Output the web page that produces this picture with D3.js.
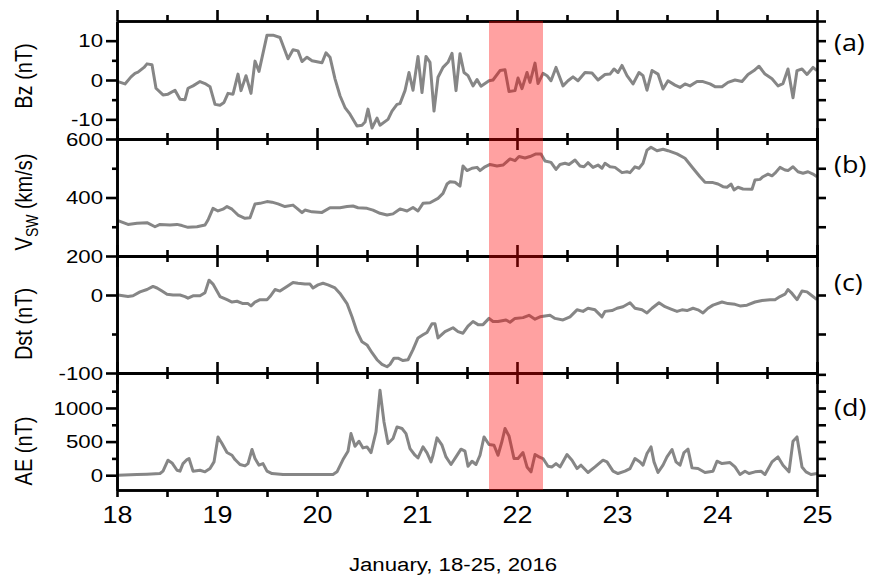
<!DOCTYPE html>
<html>
<head>
<meta charset="UTF-8">
<style>
  body { margin: 0; padding: 0; background: #fff; }
  svg { display: block; }
  text { font-family: "Liberation Sans", Arial, sans-serif; fill: #000; }
  .tag { font-family: "Open Sans", sans-serif; }
</style>
</head>
<body>
<svg id="chart"></svg>
<script src="https://d3js.org/d3.v7.min.js"></script>
<script>
let width = 878, height = 579;

// Bz (nT), [day, value]
const bz = [[18.01,-0.4],[18.08,-1.0],[18.14,0.8],[18.18,1.7],[18.21,2.0],[18.27,3.2],[18.30,4.1],[18.35,3.9],[18.39,-2.1],[18.46,-3.8],[18.51,-3.6],[18.58,-2.6],[18.63,-4.9],[18.68,-5.0],[18.71,-2.1],[18.76,-1.5],[18.83,-0.4],[18.88,-0.9],[18.93,-1.7],[18.98,-6.2],[19.03,-6.4],[19.07,-5.7],[19.11,-3.4],[19.16,-3.6],[19.21,1.5],[19.24,-2.7],[19.29,1.1],[19.34,-3.4],[19.38,4.8],[19.42,2.2],[19.50,11.4],[19.56,11.4],[19.63,10.8],[19.71,5.4],[19.76,7.7],[19.81,7.4],[19.85,4.7],[19.90,5.8],[19.95,4.9],[20.05,4.4],[20.09,6.9],[20.13,5.8],[20.18,0.3],[20.23,-4.0],[20.28,-7.0],[20.33,-8.7],[20.40,-11.7],[20.45,-11.5],[20.48,-10.7],[20.51,-7.4],[20.55,-12.2],[20.60,-9.7],[20.63,-11.5],[20.71,-10.0],[20.75,-7.9],[20.80,-6.2],[20.83,-6.0],[20.88,-2.7],[20.92,1.9],[20.96,-2.6],[21.01,6.0],[21.05,-3.2],[21.09,6.0],[21.13,4.5],[21.17,-7.9],[21.21,0.7],[21.26,3.2],[21.31,4.5],[21.35,6.8],[21.39,-2.7],[21.43,6.7],[21.47,1.9],[21.51,1.1],[21.56,-1.5],[21.60,0.1],[21.64,-1.6],[21.72,-0.2],[21.76,0],[21.83,2.4],[21.88,2.6],[21.92,-2.9],[21.98,-2.7],[22.01,0.5],[22.05,-2.2],[22.10,1.9],[22.13,-0.6],[22.18,4.3],[22.21,-0.9],[22.26,1.7],[22.30,1.1],[22.34,-0.2],[22.39,3.2],[22.46,-1.5],[22.51,-0.2],[22.56,0.8],[22.61,-0.2],[22.68,1.9],[22.75,1.8],[22.81,0],[22.88,1.4],[22.93,1.5],[22.97,2.8],[23.01,1.9],[23.05,3.7],[23.10,1.1],[23.16,-1.0],[23.22,1.9],[23.26,1.1],[23.30,-2.6],[23.35,2.4],[23.41,1.5],[23.46,-2.3],[23.51,-0.2],[23.58,-1.3],[23.63,-1.9],[23.68,-1.0],[23.73,-1.5],[23.80,-0.4],[23.86,-0.4],[23.93,-1.0],[23.98,-1.7],[24.05,-1.7],[24.11,-0.6],[24.18,0],[24.25,-0.4],[24.31,1.4],[24.37,2.4],[24.42,3.5],[24.48,1.5],[24.55,0.3],[24.61,-1.5],[24.66,-0.9],[24.71,2.8],[24.76,-4.5],[24.80,2.4],[24.85,2.8],[24.90,1.4],[24.96,3.2],[25.0,2.4]];

// solar wind speed (km/s)
const vsw = [[18.01,321],[18.11,308],[18.20,312],[18.30,314],[18.38,300],[18.43,308],[18.53,306],[18.60,308],[18.65,304],[18.71,298],[18.80,300],[18.88,306],[18.91,323],[18.96,363],[19.01,354],[19.06,360],[19.10,369],[19.15,360],[19.21,340],[19.28,329],[19.33,331],[19.38,378],[19.43,380],[19.50,386],[19.55,384],[19.61,378],[19.68,369],[19.76,374],[19.80,363],[19.85,348],[19.88,357],[19.95,351],[20.05,349],[20.13,365],[20.23,365],[20.30,369],[20.36,371],[20.41,365],[20.50,363],[20.56,357],[20.63,346],[20.70,340],[20.76,344],[20.83,361],[20.90,354],[20.96,366],[21.01,354],[21.06,380],[21.13,382],[21.21,397],[21.26,414],[21.30,446],[21.33,454],[21.38,452],[21.43,439],[21.46,508],[21.50,492],[21.55,500],[21.60,503],[21.63,492],[21.68,505],[21.73,513],[21.80,508],[21.86,511],[21.93,532],[21.98,526],[22.02,540],[22.08,535],[22.13,540],[22.19,549],[22.24,549],[22.28,525],[22.34,520],[22.39,496],[22.43,513],[22.48,517],[22.52,513],[22.58,528],[22.63,508],[22.67,505],[22.71,519],[22.76,503],[22.81,511],[22.85,500],[22.88,517],[22.93,505],[22.98,503],[23.05,485],[23.10,488],[23.13,485],[23.18,505],[23.22,500],[23.26,517],[23.30,562],[23.34,572],[23.40,560],[23.46,565],[23.51,560],[23.60,549],[23.68,534],[23.76,500],[23.83,471],[23.88,452],[23.96,451],[24.01,446],[24.06,437],[24.10,435],[24.14,446],[24.17,426],[24.21,435],[24.26,429],[24.35,428],[24.38,460],[24.43,462],[24.46,471],[24.51,480],[24.55,474],[24.58,483],[24.63,503],[24.68,494],[24.71,492],[24.76,505],[24.81,488],[24.86,483],[24.91,488],[24.96,480],[25.0,471]];

// Dst (nT)
const dst = [[18.01,0],[18.11,-2],[18.16,-1],[18.23,4],[18.30,7],[18.36,11],[18.40,9],[18.45,5],[18.50,1],[18.56,0],[18.63,0],[18.68,-2],[18.71,-4],[18.76,-1],[18.83,-1],[18.88,3],[18.92,19],[18.96,14],[19.03,-2],[19.10,-6],[19.15,-9],[19.20,-8],[19.26,-11],[19.31,-11],[19.34,-14],[19.38,-9],[19.43,-6],[19.50,-6],[19.53,-2],[19.58,7],[19.63,5],[19.70,11],[19.76,16],[19.81,15],[19.88,14],[19.93,14],[19.96,9],[20.01,13],[20.06,15],[20.11,13],[20.18,9],[20.23,2],[20.30,-11],[20.35,-28],[20.40,-47],[20.45,-60],[20.50,-64],[20.55,-74],[20.60,-83],[20.65,-89],[20.70,-92],[20.73,-89],[20.77,-81],[20.81,-81],[20.86,-84],[20.91,-83],[20.96,-70],[21.01,-55],[21.06,-51],[21.10,-48],[21.15,-37],[21.18,-37],[21.21,-55],[21.28,-47],[21.36,-42],[21.41,-47],[21.46,-49],[21.51,-40],[21.56,-34],[21.61,-38],[21.66,-38],[21.72,-30],[21.76,-34],[21.81,-34],[21.89,-32],[21.93,-35],[21.98,-30],[22.06,-29],[22.12,-26],[22.18,-31],[22.23,-28],[22.33,-26],[22.38,-30],[22.46,-32],[22.53,-28],[22.60,-19],[22.66,-21],[22.71,-17],[22.78,-19],[22.85,-28],[22.88,-21],[22.95,-20],[23.00,-17],[23.06,-15],[23.13,-10],[23.18,-17],[23.25,-19],[23.30,-23],[23.35,-17],[23.42,-10],[23.48,-15],[23.54,-18],[23.60,-21],[23.65,-19],[23.70,-20],[23.76,-17],[23.81,-19],[23.86,-23],[23.91,-17],[23.96,-13],[24.05,-9],[24.11,-11],[24.18,-12],[24.23,-14],[24.30,-13],[24.38,-9],[24.45,-7],[24.53,-6],[24.58,-6],[24.63,-2],[24.68,1],[24.71,7],[24.75,2],[24.80,-6],[24.85,5],[24.90,4],[24.95,-1],[25.0,-6]];

// AE (nT)
const ae = [[18.01,0],[18.20,10],[18.30,15],[18.43,25],[18.46,60],[18.51,223],[18.55,183],[18.60,74],[18.63,60],[18.66,173],[18.70,233],[18.72,248],[18.76,60],[18.83,74],[18.88,50],[18.93,99],[18.97,198],[19.01,569],[19.05,471],[19.10,337],[19.15,297],[19.18,233],[19.23,159],[19.28,139],[19.31,173],[19.35,382],[19.38,248],[19.42,149],[19.46,173],[19.50,60],[19.55,25],[19.66,10],[19.99,10],[20.16,10],[20.20,50],[20.26,233],[20.31,357],[20.34,619],[20.38,431],[20.42,505],[20.46,406],[20.50,421],[20.54,337],[20.59,644],[20.63,1263],[20.67,792],[20.71,471],[20.76,545],[20.80,718],[20.85,694],[20.89,619],[20.93,396],[20.98,297],[21.01,257],[21.06,421],[21.10,332],[21.14,198],[21.16,297],[21.20,555],[21.25,446],[21.29,272],[21.34,159],[21.39,272],[21.44,387],[21.48,357],[21.51,134],[21.55,208],[21.59,159],[21.63,297],[21.67,569],[21.72,456],[21.77,446],[21.81,297],[21.85,505],[21.88,694],[21.92,584],[21.97,248],[22.01,248],[22.06,337],[22.10,123],[22.14,50],[22.18,307],[22.22,272],[22.26,248],[22.31,134],[22.35,123],[22.39,173],[22.43,123],[22.50,307],[22.55,223],[22.60,99],[22.64,149],[22.71,40],[22.78,123],[22.86,223],[22.90,198],[22.96,60],[23.01,25],[23.08,60],[23.13,99],[23.18,248],[23.23,198],[23.26,149],[23.30,322],[23.34,421],[23.37,198],[23.41,40],[23.46,149],[23.50,272],[23.55,382],[23.59,198],[23.63,149],[23.67,337],[23.71,387],[23.75,109],[23.81,99],[23.88,40],[23.96,60],[24.00,208],[24.05,173],[24.13,188],[24.18,123],[24.23,10],[24.28,60],[24.32,25],[24.38,50],[24.44,60],[24.48,10],[24.55,198],[24.61,272],[24.66,149],[24.72,50],[24.76,505],[24.80,569],[24.85,123],[24.89,50],[24.94,10],[25.0,25]];

// highlighted interval (days)
const shade = [21.72, 22.26];
const dayTicks = [18, 19, 20, 21, 22, 23, 24, 25];
const halfTicks = [18.5, 19.5, 20.5, 21.5, 22.5, 23.5, 24.5];

// the picture is a bit stretched sideways, so text gets the same stretch
const SX = 1.17;

let svg = d3.select("#chart").attr("width", width).attr("height", height);

let x = d3.scaleLinear().domain([18, 25]).range([117, 817]);

let panels = [
  { data: bz,  top: 21,  bot: 139, domain: [-15, 15],    major: [-10, 0, 10],   minor: [-5, 5],          right: [-10, -5, 0, 5, 10, 15],         tag: "(a)", tagY: 43,  title: "Bz (nT)",  titleY: 76 },
  { data: vsw, top: 139, bot: 256, domain: [200, 600],   major: [200, 400, 600], minor: [300, 500],      right: [300, 400, 500],                 tag: "(b)", tagY: 165, title: null,       titleY: 202 },
  { data: dst, top: 256, bot: 373, domain: [-100, 50],   major: [-100, 0],      minor: [-50],            right: [-50, 0],                        tag: "(c)", tagY: 283, title: "Dst (nT)", titleY: 324 },
  { data: ae,  top: 373, bot: 490, domain: [-220, 1520], major: [0, 500, 1000], minor: [250, 750, 1250], right: [0, 250, 500, 750, 1000, 1250, 1500], tag: "(d)", tagY: 408, title: "AE (nT)", titleY: 451 }
];

function stretch(sel) {
  sel.each(function() {
    let t = d3.select(this);
    let tx = +t.attr("x") || 0, ty = +t.attr("y") || 0;
    t.attr("transform", `translate(${tx},${ty}) scale(${SX},1)`).attr("x", 0).attr("y", 0);
  });
}

function styleAxis(g) {
  g.selectAll("path, line").attr("stroke", "#000").attr("stroke-width", 2.6);
  g.selectAll("text").attr("font-family", "'Liberation Sans', Arial, sans-serif").attr("fill", "#000");
}

let lines = svg.append("g");
let axes = svg.append("g");

panels.forEach((p, i) => {
  let y = d3.scaleLinear().domain(p.domain).range([p.bot, p.top]);

  lines.append("path")
    .datum(p.data)
    .attr("fill", "none")
    .attr("stroke", "#868686")
    .attr("stroke-width", 3)
    .attr("stroke-linejoin", "round")
    .attr("d", d3.line().x(d => x(d[0])).y(d => y(d[1])));

  // left axis
  axes.append("g").attr("transform", "translate(117,0)")
    .call(d3.axisLeft(y).tickValues(p.minor).tickSize(5).tickSizeOuter(0).tickFormat(""))
    .call(styleAxis);
  let la = axes.append("g").attr("transform", "translate(117,0)")
    .call(d3.axisLeft(y).tickValues(p.major).tickSize(11).tickSizeOuter(0).tickPadding(3).tickFormat(d => String(d)))
    .call(styleAxis);
  la.selectAll("text").attr("font-size", 19).call(stretch);

  // right axis
  axes.append("g").attr("transform", "translate(817,0)")
    .call(d3.axisRight(y).tickValues(p.right).tickSize(9).tickSizeOuter(0).tickFormat(""))
    .call(styleAxis);

  // top axis, ticks outward
  axes.append("g").attr("transform", `translate(0,${p.top})`)
    .call(d3.axisTop(x).tickValues(dayTicks).tickSize(11).tickSizeOuter(0).tickFormat(""))
    .call(styleAxis);
  axes.append("g").attr("transform", `translate(0,${p.top})`)
    .call(d3.axisTop(x).tickValues(halfTicks).tickSize(6).tickSizeOuter(0).tickFormat(""))
    .call(styleAxis);

  // bottom axis
  let last = i === panels.length - 1;
  axes.append("g").attr("transform", `translate(0,${p.bot})`)
    .call(d3.axisBottom(x).tickValues(halfTicks).tickSize(last ? 7 : 6).tickSizeOuter(0).tickFormat(""))
    .call(styleAxis);
  let ba = axes.append("g").attr("transform", `translate(0,${p.bot})`)
    .call(d3.axisBottom(x).tickValues(dayTicks).tickSize(last ? 7 : 11).tickSizeOuter(0)
      .tickPadding(last ? 10 : 3).tickFormat(last ? (d => String(d)) : ""))
    .call(styleAxis);
  if (last) ba.selectAll("text").attr("font-size", 23).call(stretch);

  // panel letter
  svg.append("text").attr("class", "tag")
    .attr("transform", `translate(834,${p.tagY}) scale(${SX},1)`)
    .attr("dy", "0.36em")
    .attr("font-size", 23)
    .text(p.tag);

  // y title
  let t = svg.append("text")
    .attr("transform", `translate(24,${p.titleY}) scale(${SX},1) rotate(-90)`)
    .attr("text-anchor", "middle")
    .attr("dy", "0.36em")
    .attr("font-size", 20);
  if (p.title) {
    t.text(p.title);
  } else {
    t.append("tspan").text("V");
    t.append("tspan").attr("font-size", 14).attr("dy", 5).text("SW");
    t.append("tspan").attr("dy", -5).text(" (km/s)");
  }
});

// red highlight band
svg.append("rect")
  .attr("x", x(shade[0]))
  .attr("width", x(shade[1]) - x(shade[0]))
  .attr("y", 21)
  .attr("height", 490 - 21)
  .attr("fill", "rgb(255,0,0)")
  .attr("opacity", 0.37);

// x title
svg.append("text")
  .attr("transform", `translate(453,571) scale(${SX},1)`)
  .attr("text-anchor", "middle")
  .attr("font-size", 19)
  .attr("font-family", "'Open Sans', sans-serif")
  .text("January, 18-25, 2016");
</script>
</body>
</html>
